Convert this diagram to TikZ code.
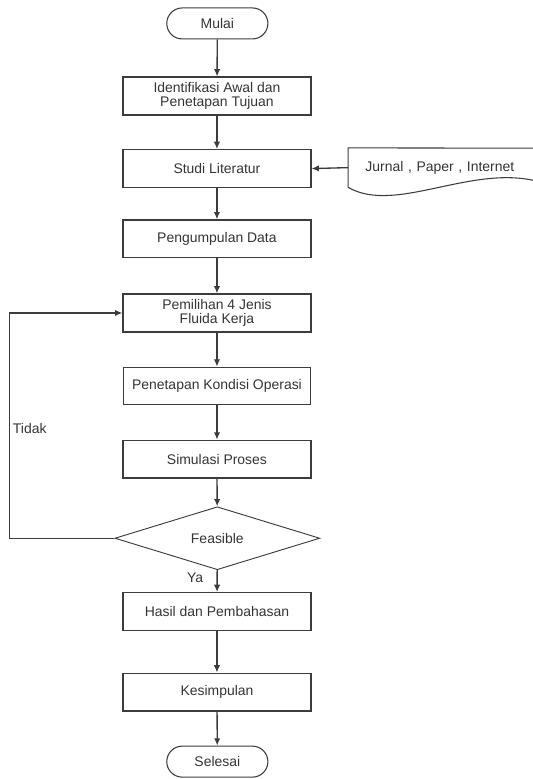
\documentclass[tikz,border=0pt]{standalone}
\usepackage{fontspec}
\setmainfont{Liberation Sans}
\usepackage{tikz}
\usetikzlibrary{positioning,arrows.meta,shapes.geometric,shapes.misc}
\definecolor{lineclr}{HTML}{3C3C3C}
\definecolor{textclr}{HTML}{333333}
\tikzset{
  flowarrow/.style={-{Latex[length=5.5pt,width=4.8pt]}, line width=1pt, draw=lineclr},
  terminal/.style={draw=lineclr, rounded rectangle, line width=0.8pt, minimum width=2.91cm, minimum height=0.82cm, align=center},
  process/.style={draw=lineclr, line width=1pt, minimum width=4.97cm, minimum height=1.0cm, align=center},
  process2/.style={draw=lineclr, line width=0.6pt, minimum width=4.97cm, minimum height=1.0cm, align=center},
  decision/.style={draw=lineclr, diamond, line width=0.7pt, inner sep=0pt, minimum width=5.42cm, minimum height=1.38cm, align=center},
  docnote/.style={anchor=west, inner xsep=0.45cm, inner ysep=0pt, minimum height=1.03cm, text width=4.6cm, align=left},
  sidelabel/.style={inner sep=1pt}
}

\begin{document}
\begin{tikzpicture}[>=Latex, every node/.style={font=\fontsize{10.5}{11}\selectfont, text=textclr}]
  \useasboundingbox (0,0) rectangle (14.08,-20.61);
  \node[terminal] (mulai) at (5.75,-0.62) {Mulai};
  \node[process] (ident) at (5.74,-2.54) {Identifikasi Awal dan\\ Penetapan Tujuan};
  \node[process] (studi) at (5.74,-4.46) {Studi Literatur};
  \node[process] (data) at (5.74,-6.32) {Pengumpulan Data};
  \node[process] (pilih) at (5.74,-8.28) {Pemilihan 4 Jenis\\ Fluida Kerja};
  \node[process2] (kondisi) at (5.74,-10.21) {Penetapan Kondisi Operasi};
  \node[process] (simul) at (5.74,-12.15) {Simulasi Proses};
  \node[decision] (feas) at (5.75,-14.24) {Feasible};
  \node[process] (hasil) at (5.74,-16.18) {Hasil dan Pembahasan};
  \node[process] (simpul) at (5.74,-18.31) {Kesimpulan};
  \node[terminal] (selesai) at (5.75,-20.15) {Selesai};
  \node[docnote] (ref) at (9.21,-4.435) {Jurnal , Paper , Internet};
  \draw[lineclr, line width=0.8pt] (ref.south west) -- (ref.north west) -- (14.4,-3.92) -- (14.4,-4.85)
    .. controls (12.6,-4.25) and (10.5,-5.7) .. (ref.south west);
  \coordinate (back) at (0.26,-14.24);
  \node[sidelabel, anchor=west] (tidak) at (0.30,-11.33) {Tidak};
  \node[sidelabel] (ya) at (5.16,-15.29) {Ya};
  \draw[flowarrow] (mulai) -- (ident);
  \draw[flowarrow] (ident) -- (studi);
  \draw[flowarrow] (ref.west) -- (studi.east);
  \draw[flowarrow] (studi) -- (data);
  \draw[flowarrow] (data) -- (pilih);
  \draw[flowarrow] (pilih) -- (kondisi);
  \draw[flowarrow] (kondisi) -- (simul);
  \draw[flowarrow] (simul) -- (feas);
  \draw[flowarrow] (feas.west) -- (back) |- (pilih.west);
  \draw[flowarrow] (feas) -- (hasil);
  \draw[flowarrow] (hasil) -- (simpul);
  \draw[flowarrow] (simpul) -- (selesai);
\end{tikzpicture}
\end{document}
